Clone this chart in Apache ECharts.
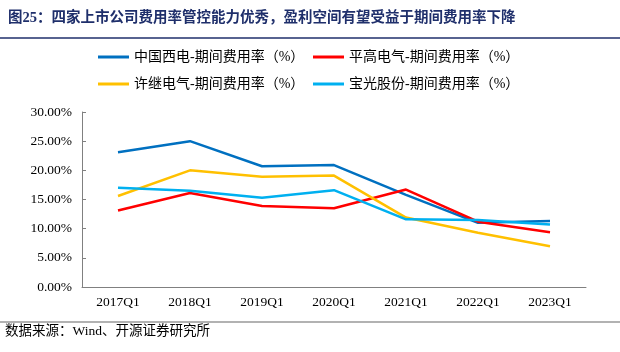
<!DOCTYPE html>
<html>
<head>
<meta charset="utf-8">
<script src="https://cdn.jsdelivr.net/npm/echarts@6/dist/echarts.min.js"></script>
<style>
html,body{margin:0;padding:0;background:#fff;}
#canvas{width:620px;height:352px;}
</style>
</head>
<body>
<div id="canvas"></div>
<script>
var categories = ['2017Q1', '2018Q1', '2019Q1', '2020Q1', '2021Q1', '2022Q1', '2023Q1'];
var names = ['中国西电-期间费用率（%）', '平高电气-期间费用率（%）', '许继电气-期间费用率（%）', '宝光股份-期间费用率（%）'];
var xidian = [23.1, 25.0, 20.7, 20.9, 15.8, 11.0, 11.3];
var pinggao = [13.1, 16.1, 13.9, 13.5, 16.7, 11.2, 9.4];
var xuji = [15.6, 20.0, 18.9, 19.1, 11.9, 9.3, 7.0];
var baoguang = [17.0, 16.5, 15.3, 16.6, 11.6, 11.5, 10.7];
var colors = ['#0070C0', '#FF0000', '#FFC000', '#00B0F0'];

var dom = document.getElementById("canvas");
var myChart = echarts.init(dom);
var serif = '"Liberation Serif", "Noto Sans CJK SC", serif';

function legendAt(i, left, top) {
    return {
        data: [names[i]],
        left: left,
        top: top,
        icon: 'rect',
        itemWidth: 31,
        itemHeight: 3,
        padding: 0,
        itemGap: 0,
        textStyle: { fontFamily: serif, fontSize: 14, color: '#000' }
    };
}

var option = {
    color: colors,
    animation: false,
    title: {
        text: '图25：四家上市公司费用率管控能力优秀，盈利空间有望受益于期间费用率下降',
        left: 8,
        top: 11,
        padding: 0,
        textStyle: { fontFamily: serif, fontSize: 14.5, fontWeight: 'bold', color: '#1F2F6B' }
    },
    graphic: [
        { type: 'line', shape: { x1: 0, y1: 38, x2: 620, y2: 38 }, style: { stroke: '#1F2F6B', lineWidth: 1.5 } },
        { type: 'line', shape: { x1: 0, y1: 322, x2: 620, y2: 322 }, style: { stroke: '#999', lineWidth: 1.5 } },
        { type: 'text', left: 5, top: 325, style: { text: '数据来源：Wind、开源证券研究所', font: '13.5px ' + serif, fill: '#000' } }
    ],
    legend: [
        legendAt(0, 98, 50),
        legendAt(1, 313, 50),
        legendAt(2, 98, 77),
        legendAt(3, 313, 77)
    ],
    grid: { left: 82, right: 34, top: 112, bottom: 65 },
    xAxis: {
        type: 'category',
        data: categories,
        boundaryGap: true,
        axisLine: { lineStyle: { color: '#808080', width: 1 } },
        axisTick: { inside: true, length: 4, lineStyle: { color: '#808080' } },
        axisLabel: { fontFamily: serif, fontSize: 13.5, color: '#000', margin: 9 }
    },
    yAxis: {
        type: 'value',
        min: 0,
        max: 30,
        interval: 5,
        splitLine: { show: false },
        axisLine: { show: true, lineStyle: { color: '#808080', width: 1 } },
        axisTick: { show: true, inside: true, length: 4, lineStyle: { color: '#808080' } },
        axisLabel: {
            fontFamily: serif, fontSize: 13.5, color: '#000', margin: 10,
            formatter: function (v) { return v.toFixed(2) + '%'; }
        }
    },
    series: [
        { name: names[0], type: 'line', data: xidian, symbol: 'none', lineStyle: { width: 2.5 } },
        { name: names[1], type: 'line', data: pinggao, symbol: 'none', lineStyle: { width: 2.5 } },
        { name: names[2], type: 'line', data: xuji, symbol: 'none', lineStyle: { width: 2.5 } },
        { name: names[3], type: 'line', data: baoguang, symbol: 'none', lineStyle: { width: 2.5 } }
    ]
};
myChart.setOption(option, true);
</script>
</body>
</html>
